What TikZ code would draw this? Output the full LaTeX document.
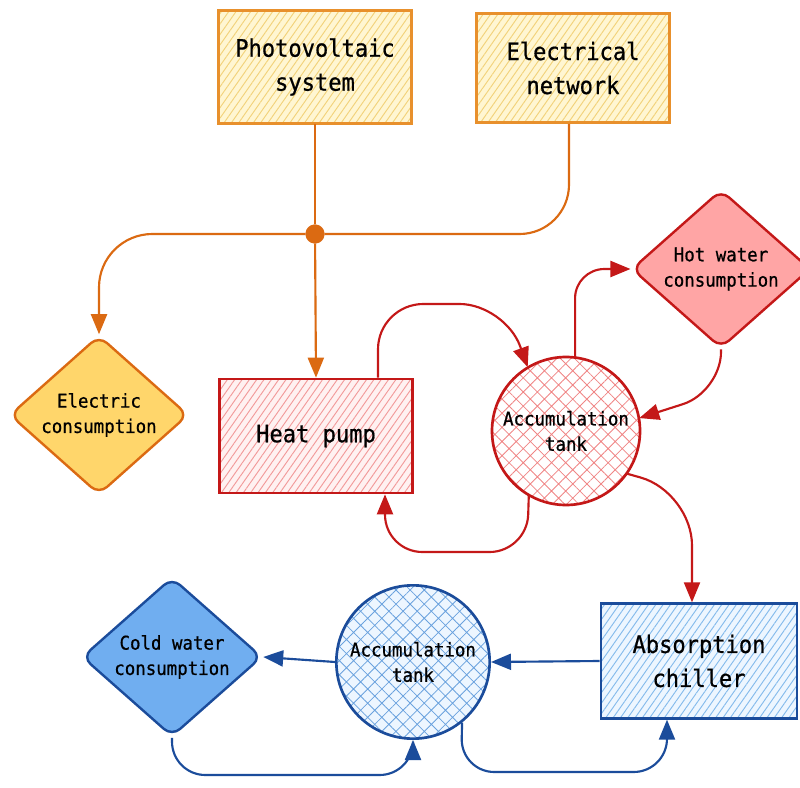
\documentclass[tikz,border=0pt]{standalone}
\usepackage{fontspec}
\newfontfamily\dfont[FakeBold=0.7,FakeStretch=0.92]{DejaVu Sans Mono}
\usetikzlibrary{shapes.geometric,patterns.meta,arrows.meta}
\definecolor{oline}{HTML}{DB6A12}
\definecolor{pvborder}{HTML}{E8902C}
\definecolor{pvfill}{HTML}{FFF6D2}
\definecolor{pvhatch}{HTML}{F2D27A}
\definecolor{ecfill}{HTML}{FFD66B}
\definecolor{rline}{HTML}{C41818}
\definecolor{hpfill}{HTML}{FFF1F1}
\definecolor{hphatch}{HTML}{F29A9A}
\definecolor{rtank}{HTML}{F08484}
\definecolor{hwfill}{HTML}{FFA5A5}
\definecolor{bline}{HTML}{1B4C9B}
\definecolor{acfill}{HTML}{EDF6FF}
\definecolor{achatch}{HTML}{85BBEC}
\definecolor{btank}{HTML}{6AA2DE}
\definecolor{cwfill}{HTML}{70AEF0}
\begin{document}
\begin{tikzpicture}[x=0.75pt,y=-0.75pt,
  bigtxt/.style={font=\dfont\fontsize{18}{25.5}\selectfont, align=center, text=black},
  smalltxt/.style={font=\dfont\fontsize{14.2}{19}\selectfont, align=center, text=black},
  srcbox/.style={draw=pvborder, line width=2pt, preaction={fill=pvfill},
    pattern={Lines[angle=55,distance=4.5pt,line width=0.7pt]}, pattern color=pvhatch,
    minimum width=145pt, minimum height=85pt, inner sep=0pt, bigtxt},
  hpbox/.style={draw=rline, line width=2pt, preaction={fill=hpfill},
    pattern={Lines[angle=55,distance=4.5pt,line width=0.7pt]}, pattern color=hphatch,
    minimum width=145pt, minimum height=85.5pt, inner sep=0pt, bigtxt},
  acbox/.style={draw=bline, line width=2pt, preaction={fill=acfill},
    pattern={Lines[angle=55,distance=4.5pt,line width=0.7pt]}, pattern color=achatch,
    minimum width=147pt, minimum height=86pt, inner sep=0pt, bigtxt},
  rtankst/.style={circle, draw=rline, line width=2pt, preaction={fill=white},
    pattern={Hatch[angle=45,distance=7.5pt,line width=0.6pt]}, pattern color=rtank,
    minimum size=111pt, inner sep=0pt, smalltxt},
  btankst/.style={circle, draw=bline, line width=2pt, preaction={fill=acfill},
    pattern={Hatch[angle=45,distance=7.5pt,line width=0.6pt]}, pattern color=btank,
    minimum size=115pt, inner sep=0pt, smalltxt},
  dia/.style={diamond, line width=1.8pt, rounded corners=8pt, inner sep=0pt, smalltxt},
  tipst/.style={-{Triangle[length=15pt,width=12pt]}},
  oconn/.style={draw=oline, line width=1.6pt},
  rconn/.style={draw=rline, line width=1.6pt},
  bconn/.style={draw=bline, line width=1.6pt}
]
\useasboundingbox[fill=white] (0,0) rectangle (800,788);

% nodes
\node[srcbox] (pv) at (315,67) {Photovoltaic\\system};
\node[srcbox, minimum height=82pt] (en) at (573,68) {Electrical\\network};
\node[circle, fill=oline, draw=oline, minimum size=14pt, inner sep=0pt] (dot) at (315,234) {};
\node[dia, draw=oline, fill=ecfill, minimum width=134pt, minimum height=115.5pt] (ec) at (99,415) {Electric\\consumption};
\node[hpbox] (hp) at (316,436) {Heat pump};
\node[rtankst] (rt) at (566,431) {Accumulation\\tank};
\node[dia, draw=rline, fill=hwfill, minimum width=134pt, minimum height=114pt] (hw) at (721,269) {Hot water\\consumption};
\node[acbox] (ac) at (699,661) {Absorption\\chiller};
\node[btankst] (bt) at (413,662) {Accumulation\\tank};
\node[dia, draw=bline, fill=cwfill, minimum width=135pt, minimum height=115.5pt] (cw) at (172,657) {Cold water\\consumption};

% orange connectors
\draw[oconn] (pv.south) -- (dot);
\draw[oconn, tipst] (dot) -- (hp.north);
\draw[oconn, rounded corners=37pt] ([xshift=-3pt]en.south) |- (dot);
\draw[oconn, tipst, rounded corners=40pt] (dot) -| (ec.north);

% red connectors
\draw[rconn, tipst, rounded corners=34pt] ([xshift=46.5pt]hp.north) -- (378,304) -- (505,304) -- (rt.121);
\draw[rconn, tipst, rounded corners=22pt] (rt.83) |- (hw.west);
\draw[rconn, tipst, rounded corners=30pt] (hw.south) -- (721,392) -- (rt.10);
\draw[rconn, tipst, rounded corners=28pt] (rt.240) -- (527,552) -- (385,552) -- ([xshift=51.75pt]hp.south);
\draw[rconn, tipst, rounded corners=40pt] (rt.-35) -- (692,492) -- ([xshift=-5.25pt]ac.north);

% blue connectors
\draw[bconn, tipst] (ac.west) -- (bt.east);
\draw[bconn, tipst] (bt.west) -- (cw.east);
\draw[bconn, tipst, rounded corners=25pt] (cw.south) -- (172,775) -- (413,775) -- (bt.south);
\draw[bconn, tipst, rounded corners=25pt] (bt.-51) -- (461,772) -- (667,772) -- ([xshift=-24pt]ac.south);
\end{tikzpicture}
\end{document}
